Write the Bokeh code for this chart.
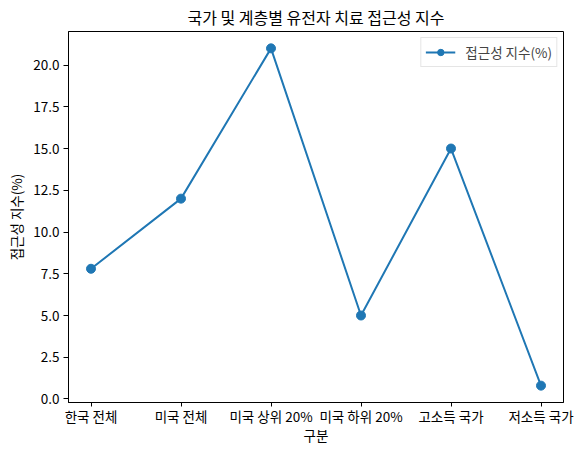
from bokeh.plotting import figure
from bokeh.models import FixedTicker, NumeralTickFormatter, Range1d, Legend, LegendItem, Title
from bokeh.embed import file_html
from bokeh.resources import INLINE

categories = ["한국 전체", "미국 전체", "미국 상위 20%", "미국 하위 20%", "고소득 국가", "저소득 국가"]
values = [7.8, 12.0, 21.0, 5.0, 15.0, 0.8]
y_ticks = [0.0, 2.5, 5.0, 7.5, 10.0, 12.5, 15.0, 17.5, 20.0]

FONT = "Noto Sans CJK KR"
BLUE = "#1f77b4"

xs = list(range(len(categories)))
ymin, ymax = min(values), max(values)
pad = (ymax - ymin) * 0.05

p = figure(width=584, height=454, output_backend="svg", toolbar_location=None,
           x_range=Range1d(-0.25, len(categories) - 0.75),
           y_range=Range1d(ymin - pad, ymax + pad),
           min_border_left=68, min_border_top=31, min_border_right=21, min_border_bottom=52)

p.title = Title(text="국가 및 계층별 유전자 치료 접근성 지수", align="center",
                text_font=FONT, text_font_size="16px", text_font_style="normal",
                text_color="black", offset=0, standoff=5)

r_line = p.line(xs, values, line_color=BLUE, line_width=2)
r_pts = p.scatter(xs, values, size=9, fill_color=BLUE, line_color=BLUE)

legend = Legend(items=[LegendItem(label="접근성 지수(%)", renderers=[r_line, r_pts])],
                location="top_right", label_text_font=FONT, label_text_font_size="13.5px",
                border_line_color="#cccccc", border_line_width=1, background_fill_alpha=0.8,
                glyph_width=30, glyph_height=16, label_height=16, padding=4, margin=6,
                spacing=0, label_standoff=10)
p.add_layout(legend)

p.xgrid.visible = False
p.ygrid.visible = False
p.outline_line_color = "black"
p.outline_line_width = 1

p.xaxis.ticker = FixedTicker(ticks=xs)
p.xaxis.major_label_overrides = {i: c for i, c in enumerate(categories)}
p.yaxis.ticker = FixedTicker(ticks=y_ticks)
p.yaxis.formatter = NumeralTickFormatter(format="0.0")

for ax in (p.xaxis[0], p.yaxis[0]):
    ax.axis_line_color = "black"
    ax.major_tick_line_color = "black"
    ax.major_tick_out = 5
    ax.major_tick_in = 0
    ax.minor_tick_line_color = None
    ax.major_label_text_font = FONT
    ax.major_label_text_font_size = "13.5px"
    ax.major_label_text_color = "black"
    ax.axis_label_text_font = FONT
    ax.axis_label_text_font_size = "13.5px"
    ax.axis_label_text_font_style = "normal"
    ax.axis_label_text_color = "black"

p.xaxis.major_tick_out = 4
p.xaxis.major_label_standoff = -1
p.xaxis.axis_label_standoff = -4
p.yaxis.major_label_standoff = 4
p.yaxis.axis_label_standoff = 4

p.xaxis.axis_label = "구분"
p.yaxis.axis_label = "접근성 지수(%)"

open("out.html", "w").write(file_html(p, INLINE))
